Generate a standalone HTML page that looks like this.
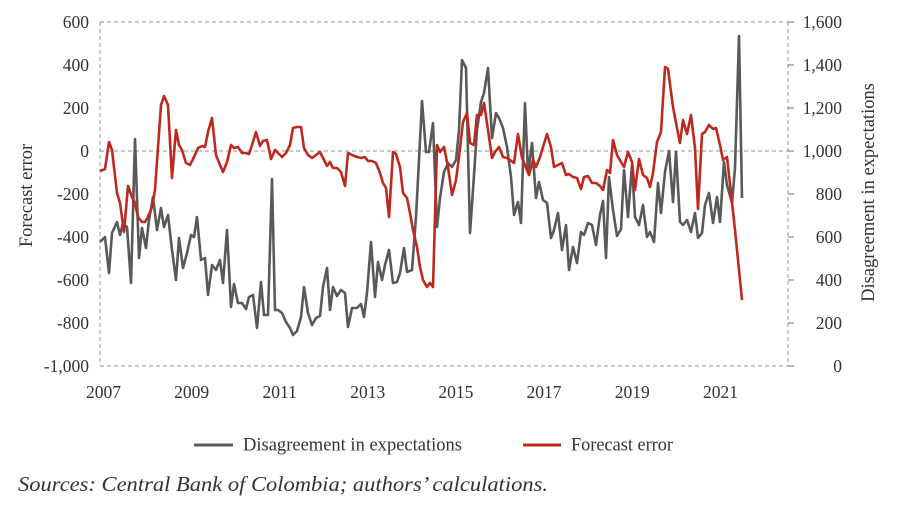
<!DOCTYPE html>
<html><head><meta charset="utf-8"><style>
html,body{margin:0;padding:0;background:#fff;}
svg{display:block;}
text{font-family:"Liberation Serif","DejaVu Serif",serif;fill:#333;}
</style></head><body>
<svg width="900" height="514" viewBox="0 0 900 514" xmlns="http://www.w3.org/2000/svg">
<g stroke="#a8a8a8" stroke-width="1.2" stroke-dasharray="4 3" fill="none">
<line x1="100" y1="22" x2="788" y2="22"/>
<line x1="100" y1="366" x2="788" y2="366"/>
<line x1="100" y1="22" x2="100" y2="366"/>
<line x1="788" y1="22" x2="788" y2="366"/>
<line x1="100" y1="151" x2="788" y2="151"/>
</g>
<g stroke="#8a8a8a" stroke-width="1.2">
<line x1="788" y1="22" x2="794" y2="22"/>
<line x1="788" y1="65" x2="794" y2="65"/>
<line x1="788" y1="108" x2="794" y2="108"/>
<line x1="788" y1="151" x2="794" y2="151"/>
<line x1="788" y1="194" x2="794" y2="194"/>
<line x1="788" y1="237" x2="794" y2="237"/>
<line x1="788" y1="280" x2="794" y2="280"/>
<line x1="788" y1="323" x2="794" y2="323"/>
<line x1="788" y1="366" x2="794" y2="366"/>
</g>
<g font-size="17.5" text-anchor="end">
<text x="89" y="28">600</text>
<text x="89" y="71">400</text>
<text x="89" y="114">200</text>
<text x="89" y="157">0</text>
<text x="89" y="200">-200</text>
<text x="89" y="243">-400</text>
<text x="89" y="286">-600</text>
<text x="89" y="329">-800</text>
<text x="89" y="372">-1,000</text>
<text x="842" y="28">1,600</text>
<text x="842" y="71">1,400</text>
<text x="842" y="114">1,200</text>
<text x="842" y="157">1,000</text>
<text x="842" y="200">800</text>
<text x="842" y="243">600</text>
<text x="842" y="286">400</text>
<text x="842" y="329">200</text>
<text x="842" y="372">0</text>
</g>
<g font-size="17.5" text-anchor="middle">
<text x="103.5" y="398">2007</text>
<text x="191.6" y="398">2009</text>
<text x="279.7" y="398">2011</text>
<text x="367.8" y="398">2013</text>
<text x="455.9" y="398">2015</text>
<text x="544" y="398">2017</text>
<text x="632.2" y="398">2019</text>
<text x="720.5" y="398">2021</text>
</g>
<text font-size="18.5" text-anchor="middle" transform="translate(32,195.5) rotate(-90)">Forecast error</text>
<text font-size="18.5" text-anchor="middle" transform="translate(874,192.5) rotate(-90)">Disagreement in expectations</text>
<polyline fill="none" stroke="#595959" stroke-width="2.6" stroke-linejoin="round" points="100,242 105,237 109,273 112,233 117,222 120,235 123,223 127,227 131,283 135,139 139,258 142,228 146,248 149,220 153,197 157,230 161,208 164,227 168,215 172,250 176,280 179,238 183,268 187,253 191,235 194,237 197,217 201,260 205,258 208,295 212,265 216,270 220,260 223,283 227,230 231,307 234,284 238,303 242,303 246,309 249,297 253,295 257,328 261,282 264,315 268,315 272,179 275,310 278,310 282,313 286,322 290,328 293,335 297,331 301,317 304,287 308,313 312,325 316,318 320,316 323,287 327,268 330,310 333,287 337,296 341,290 345,293 348,327 352,308 357,308 361,304 364,317 367,293 371,242 375,297 378,262 382,280 385,265 389,250 393,283 397,282 400,273 404,248 407,272 412,270 416,217 419,160 422,101 426,152 429,152 433,123 437,227 440,198 444,172 448,163 452,167 456,160 459,130 462,60 466,68 470,233 473,190 477,130 481,102 484,93 488,68 492,138 496,113 499,118 503,128 507,147 511,177 514,215 518,202 521,223 525,103 528,173 532,143 536,198 539,182 543,200 547,203 551,238 554,230 558,213 562,250 566,225 569,270 573,247 577,263 581,232 584,235 588,223 592,225 596,245 600,215 603,201 606,258 609,177 613,210 617,236 621,229 624,170 628,217 632,165 635,217 639,225 643,205 647,237 650,232 654,242 658,183 661,213 665,172 669,151 673,202 676,152 680,222 683,225 687,220 691,232 695,213 698,238 702,233 705,205 709,193 713,223 717,197 720,222 724,162 727,185 732,203 735,168 739,36 742,198"/>
<polyline fill="none" stroke="#c0281e" stroke-width="2.6" stroke-linejoin="round" points="100,171 105,169 109,142 112,150 117,193 120,203 124,232 128,186 132,197 135,203 138,217 142,222 145,222 148,217 152,207 155,190 158,147 161,105 164,96 168,105 172,178 176,130 179,145 182,150 186,163 190,165 194,157 198,148 202,146 205,147 208,132 212,118 216,155 220,165 223,172 227,162 231,145 234,148 238,147 242,153 246,153 249,154 252,145 256,132 260,146 263,141 267,140 271,159 275,150 278,153 282,157 286,153 290,145 293,128 297,127 301,127 304,148 308,155 312,158 316,155 320,152 323,158 327,166 330,162 333,168 337,168 341,172 345,186 348,153 352,155 357,157 361,158 365,157 368,161 372,161 376,163 380,173 383,183 386,188 389,217 393,152 396,154 400,167 403,193 407,198 410,213 413,230 417,247 420,267 423,280 427,287 430,283 433,287 437,145 440,152 444,147 448,167 452,195 456,180 459,157 463,122 467,113 470,143 474,145 477,115 481,115 484,103 488,130 492,158 495,152 499,147 503,157 507,158 510,160 514,163 518,134 522,158 525,165 529,175 533,160 536,167 540,157 543,147 547,134 551,147 554,167 558,165 562,163 566,175 569,174 573,177 577,178 581,189 584,177 588,176 592,183 596,183 600,186 603,190 607,170 610,173 613,140 617,155 621,162 624,167 628,152 632,162 635,190 639,159 643,175 647,178 650,187 653,173 657,142 661,132 665,67 668,69 673,107 677,128 680,143 683,120 687,134 691,115 695,148 698,209 702,134 705,132 709,125 713,129 716,128 720,145 723,160 727,157 731,193 735,230 738,260 742,300"/>
<line x1="194" y1="445" x2="233" y2="445" stroke="#595959" stroke-width="3"/>
<text x="243" y="450.5" font-size="18.5" textLength="219" lengthAdjust="spacingAndGlyphs">Disagreement in expectations</text>
<line x1="523" y1="445" x2="561" y2="445" stroke="#c0281e" stroke-width="3"/>
<text x="571" y="450.5" font-size="18.5" textLength="102" lengthAdjust="spacingAndGlyphs">Forecast error</text>
<text x="18" y="491" font-size="21" font-style="italic" textLength="530" lengthAdjust="spacingAndGlyphs">Sources: Central Bank of Colombia; authors’ calculations.</text>
</svg>
</body></html>
